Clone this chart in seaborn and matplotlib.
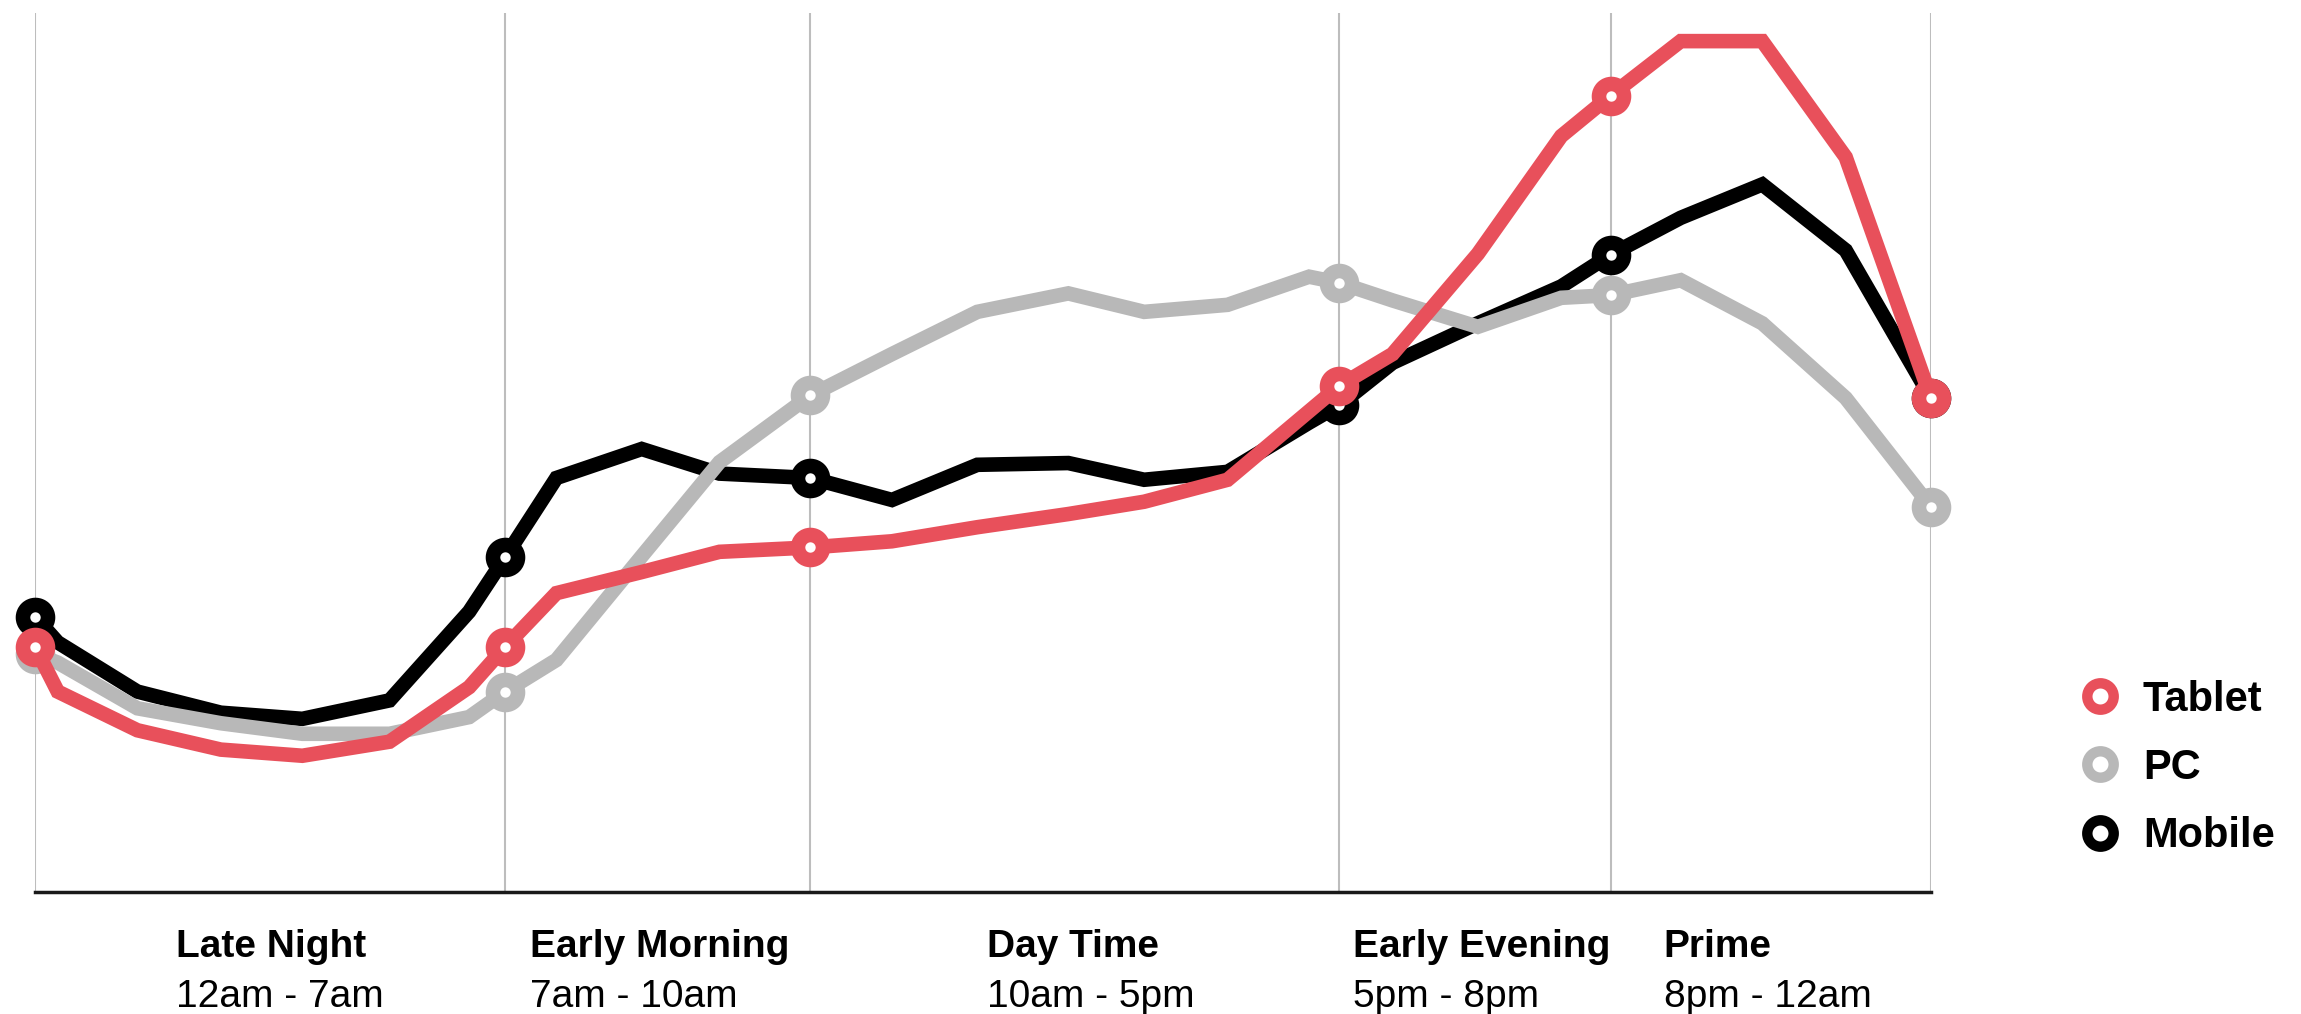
import matplotlib
matplotlib.use("Agg")
import matplotlib.pyplot as plt
import matplotlib.transforms as mtransforms
from matplotlib.lines import Line2D
import seaborn as sns
import pandas as pd

# ---------------- data ----------------
position = [0.0, 1.2, 5.4, 9.8, 14.1, 18.7, 22.9, 24.8, 27.5, 32.0, 36.1, 40.9, 45.2,
            49.7, 54.5, 58.5, 62.9, 67.2, 68.8, 71.6, 76.1, 80.5, 83.1, 86.8, 91.1,
            95.5, 100.0]
mobile = [31.3, 28.4, 22.8, 20.4, 19.7, 21.8, 31.9, 38.1, 47.1, 50.4, 47.6, 47.1, 44.6,
          48.6, 48.8, 46.9, 47.8, 53.4, 55.4, 60.2, 64.7, 68.9, 72.5, 76.7, 80.5,
          73.0, 56.2]
pc = [27.1, 26.1, 20.9, 19.2, 18.0, 18.0, 19.9, 22.8, 26.4, 38.2, 48.9, 56.5, 61.2,
      66.0, 68.1, 66.0, 66.8, 70.0, 69.3, 67.3, 64.3, 67.6, 67.9, 69.6, 64.7,
      56.2, 43.8]
tablet = [27.9, 22.8, 18.4, 16.2, 15.5, 17.1, 23.3, 27.9, 34.0, 36.4, 38.7, 39.2, 39.9,
          41.5, 43.0, 44.4, 46.9, 54.7, 57.6, 61.2, 72.6, 86.0, 90.6, 96.8, 96.8,
          83.6, 56.2]
boundaries = [0.0, 24.8, 40.9, 68.8, 83.1, 100.0]
daypart_names = ["Late Night", "Early Morning", "Day Time", "Early Evening", "Prime"]
daypart_hours = ["12am - 7am", "7am - 10am", "10am - 5pm", "5pm - 8pm", "8pm - 12am"]
legend_order = ["Tablet", "PC", "Mobile"]

# ---------------- styling ----------------
colors = {"Tablet": "#E8505B", "PC": "#B8B8B8", "Mobile": "#000000"}
draw_order = ["Mobile", "PC", "Tablet"]
label_left = [7.44, 26.1, 50.2, 69.5, 85.9]   # left edge of daypart labels (x data units)

sns.set_theme(style="white")
plt.rcParams["font.family"] = ["Liberation Sans", "DejaVu Sans"]
plt.rcParams["text.color"] = "black"

df = pd.concat([
    pd.DataFrame({"position": position, "share": mobile, "device": "Mobile"}),
    pd.DataFrame({"position": position, "share": pc, "device": "PC"}),
    pd.DataFrame({"position": position, "share": tablet, "device": "Tablet"}),
], ignore_index=True)

W, H = 2301, 1014
fig = plt.figure(figsize=(W / 100, H / 100), dpi=100)
ax = fig.add_axes([35 / W, (H - 892) / H, (1931 - 35) / W, (892 - 13) / H])

mark_idx = [i for i, p in enumerate(position) if p in boundaries]

for z, dev in enumerate(draw_order):
    sub = df[df["device"] == dev]
    sns.lineplot(data=sub, x="position", y="share", ax=ax, color=colors[dev],
                 linewidth=10.5, estimator=None, errorbar=None, sort=False,
                 marker="o", markevery=mark_idx, markersize=18,
                 markerfacecolor="white", markeredgecolor=colors[dev],
                 markeredgewidth=10.5, solid_joinstyle="miter",
                 clip_on=False, zorder=3 + z, legend=False)

ax.set_xlim(boundaries[0], boundaries[-1])
ax.set_ylim(0, 100)
ax.set_xticks(boundaries)
ax.set_xticklabels([])
ax.set_yticks([])
ax.set_xlabel("")
ax.set_ylabel("")
ax.tick_params(axis="x", length=0)
ax.grid(axis="x", color="#BDBDBD", linewidth=1.5, zorder=0)
ax.set_axisbelow(True)
for s in ["top", "left", "right"]:
    ax.spines[s].set_visible(False)
ax.spines["bottom"].set_color("#1a1a1a")
ax.spines["bottom"].set_linewidth(2.5)
ax.patch.set_alpha(0)

trans = mtransforms.blended_transform_factory(ax.transData, fig.transFigure)
for xl, name, hours in zip(label_left, daypart_names, daypart_hours):
    ax.text(xl, (H - 957) / H, name, transform=trans, ha="left", va="baseline",
            fontsize=28, fontweight="bold", color="black")
    ax.text(xl, (H - 1007) / H, hours, transform=trans, ha="left", va="baseline",
            fontsize=28, color="black")

handles = [Line2D([], [], linestyle="", marker="o", markersize=19,
                  markerfacecolor="white", markeredgecolor=colors[d],
                  markeredgewidth=7.5) for d in legend_order]
leg = fig.legend(handles, legend_order, loc="center left",
                 bbox_to_anchor=(2079 / W, (H - 768) / H),
                 frameon=False, prop={"size": 30, "weight": "bold"},
                 handlelength=1.0, handletextpad=0.53, labelspacing=0.68,
                 borderpad=0, borderaxespad=0, labelcolor="black")

fig.savefig("out.png", dpi=100)
